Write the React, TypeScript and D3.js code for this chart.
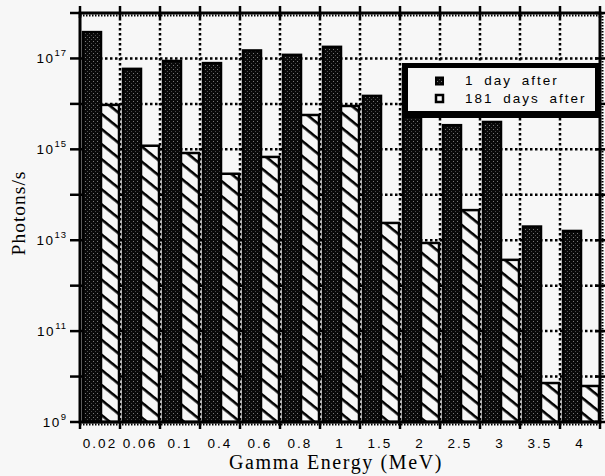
import React from "react";
import * as d3 from "d3";

const categories = ["0.02", "0.06", "0.1", "0.4", "0.6", "0.8", "1", "1.5", "2", "2.5", "3", "3.5", "4"];
const seriesNames = ["1 day after", "181 days after"];
const oneDayAfter = [3.8e17, 5.9e16, 8.8e16, 7.9e16, 1.5e17, 1.2e17, 1.8e17, 1.5e16, 6e16, 3.4e15, 4.0e15, 2.0e13, 1.6e13];
const days181After = [9.5e15, 1.2e15, 8.3e14, 2.9e14, 6.8e14, 5.7e15, 9e15, 2.4e13, 8.7e12, 4.6e13, 3.7e12, 7.2e9, 6.2e9];
const yTickExponents = [9, 10, 11, 12, 13, 14, 15, 16, 17, 18];
const yLabelExponents = [9, 11, 13, 15, 17];

const W = 605;
const H = 476;
const M = { left: 80, right: 600, top: 13, bottom: 422 };

export default function App() {
  const x = d3.scaleBand<string>().domain(categories).range([M.left, M.right]).padding(0);
  const inner = d3.scaleBand<string>().domain(seriesNames).range([3, 39]).padding(0);
  const y = d3.scaleLog().domain([1e9, 1e18]).range([M.bottom, M.top]);

  const series = [
    { name: seriesNames[0], values: oneDayAfter, fill: "url(#stipple)" },
    { name: seriesNames[1], values: days181After, fill: "url(#hatch)" },
  ];

  const boundaries = categories.map((c) => x(c)!).concat([M.right]);
  const innerBoundaries = boundaries.slice(1, -1);
  const gridY = yTickExponents.slice(1, -1);
  const font = "'Liberation Sans', Arial, Helvetica, sans-serif";
  const serif = "'Liberation Serif', 'Times New Roman', Times, serif";

  return (
    <svg width={W} height={H} style={{ position: "absolute", left: 0, top: 0, background: "#f7f7f7" }}>
      <defs>
        <pattern id="stipple" patternUnits="userSpaceOnUse" width="4" height="4">
          <rect width="4" height="4" fill="#0a0a0a" />
          <rect x="1" y="1" width="1" height="1" fill="#7a7a7a" />
          <rect x="3" y="3" width="1" height="1" fill="#4a4a4a" />
        </pattern>
        <pattern id="hatch" patternUnits="userSpaceOnUse" width="12" height="11.7" patternTransform="rotate(39)">
          <rect width="12" height="11.7" fill="#f7f7f7" />
          <rect width="12" height="2.6" fill="#000" />
        </pattern>
      </defs>
      <rect width={W} height={H} fill="#f7f7f7" />

      {/* grid */}
      <g stroke="#000" strokeWidth={2.5} strokeDasharray="2.5,2.5" fill="none">
        {gridY.map((e) => (
          <line key={"gy" + e} x1={M.left} x2={M.right} y1={y(Math.pow(10, e))} y2={y(Math.pow(10, e))} />
        ))}
        {innerBoundaries.map((b, i) => (
          <line key={"gx" + i} x1={b} x2={b} y1={M.top} y2={M.bottom} />
        ))}
      </g>

      {/* bars */}
      {series.map((s) => (
        <g key={s.name}>
          {s.values.map((v, i) => {
            const x0 = x(categories[i])! + inner(s.name)!;
            const yt = y(v);
            return (
              <rect
                key={i}
                x={x0}
                y={yt}
                width={inner.bandwidth()}
                height={M.bottom - yt}
                fill={s.fill}
                stroke="#000"
                strokeWidth={2.5}
              />
            );
          })}
        </g>
      ))}

      {/* axes frame */}
      <g stroke="#000" fill="none">
        <rect x={M.left} y={M.top} width={M.right - M.left} height={M.bottom - M.top} strokeWidth={3} />
        <line x1={M.left} x2={M.right} y1={M.top + 2.5} y2={M.top + 2.5} strokeWidth={2} strokeDasharray="1.5,1.5" />
        <line x1={M.left} x2={M.right} y1={M.bottom + 2.5} y2={M.bottom + 2.5} strokeWidth={2} strokeDasharray="1.5,1.5" />
        <line x1={M.right + 2.5} x2={M.right + 2.5} y1={M.top} y2={M.bottom} strokeWidth={2} strokeDasharray="1.5,1.5" />
        {boundaries.map((b, i) => (
          <g key={"xt" + i}>
            <line x1={b} x2={b} y1={M.bottom} y2={M.bottom + 7} strokeWidth={2.5} />
            <line x1={b} x2={b} y1={M.top - 7} y2={M.top + 5} strokeWidth={2.5} />
          </g>
        ))}
        {yTickExponents.map((e) => (
          <g key={"yt" + e}>
            <line x1={M.left - 10} x2={M.left} y1={y(Math.pow(10, e))} y2={y(Math.pow(10, e))} strokeWidth={2.5} />
            <line x1={M.right - 5} x2={M.right + 5} y1={y(Math.pow(10, e))} y2={y(Math.pow(10, e))} strokeWidth={2.5} />
          </g>
        ))}
      </g>

      {/* y labels */}
      <g fontFamily={font} fill="#000">
        {yLabelExponents.map((e) => (
          <text key={"yl" + e} x={67} y={y(Math.pow(10, e)) + 5} textAnchor="end" fontSize={13.5} letterSpacing={1.5}>
            10
            <tspan fontSize={9.5} dy={-7} letterSpacing={1}>{e}</tspan>
          </text>
        ))}
      </g>

      {/* x labels */}
      <g fontFamily={font} fill="#000" fontSize={13.5} letterSpacing={2}>
        {categories.map((c) => (
          <text key={"xl" + c} x={x(c)! + x.bandwidth() / 2} y={448} textAnchor="middle">
            {c}
          </text>
        ))}
      </g>

      {/* axis titles */}
      <text x={336} y={469} textAnchor="middle" fontFamily={serif} fontSize={20} letterSpacing={1.6} fill="#000">
        Gamma Energy (MeV)
      </text>
      <text
        transform="translate(25,213) rotate(-90)"
        textAnchor="middle"
        fontFamily={serif}
        fontSize={19.5}
        letterSpacing={1}
        fill="#000"
      >
        Photons/s
      </text>

      {/* legend */}
      <g>
        <rect x={402} y={63} width={198} height={55} fill="#000" />
        <rect x={408} y={68} width={187} height={43} fill="#f7f7f7" />
        <rect x={436} y={77.5} width={7} height={7} fill="url(#stipple)" stroke="#000" strokeWidth={2} />
        <rect x={436} y={95} width={7} height={7} fill="#f7f7f7" stroke="#000" strokeWidth={2.5} />
        <text x={465} y={85} fontFamily={font} fontSize={13.5} letterSpacing={2} wordSpacing={4} fill="#000">
          {seriesNames[0]}
        </text>
        <text x={465} y={103} fontFamily={font} fontSize={13.5} letterSpacing={2} wordSpacing={4} fill="#000">
          {seriesNames[1]}
        </text>
      </g>
    </svg>
  );
}
